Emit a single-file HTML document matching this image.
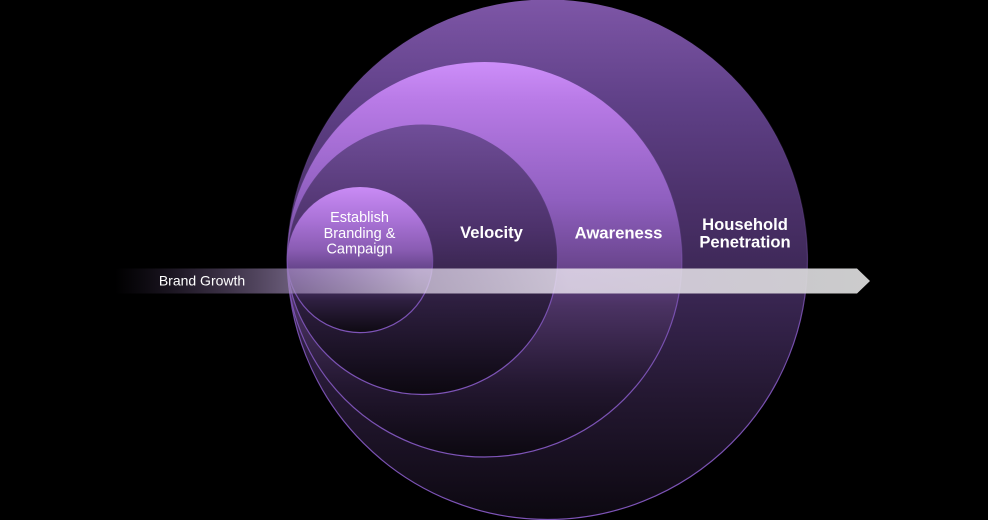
<!DOCTYPE html>
<html>
<head>
<meta charset="utf-8">
<style>
  html, body { margin: 0; padding: 0; background: #000; }
  body { width: 988px; height: 520px; overflow: hidden; }
  svg { display: block; }
  text { font-family: "Liberation Sans", Arial, sans-serif; fill: #ffffff; }
</style>
</head>
<body>
<svg width="988" height="520" viewBox="0 0 988 520" xmlns="http://www.w3.org/2000/svg">
  <defs>
    <linearGradient id="g1" x1="0" y1="0" x2="0" y2="1">
      <stop offset="0" stop-color="#7e56a7"/>
      <stop offset="0.2" stop-color="#5f4087"/>
      <stop offset="0.4" stop-color="#4a3068"/>
      <stop offset="0.58" stop-color="#382550"/>
      <stop offset="0.77" stop-color="#231730"/>
      <stop offset="1" stop-color="#0c0810"/>
    </linearGradient>
    <linearGradient id="g2" x1="0" y1="0" x2="0" y2="1">
      <stop offset="0" stop-color="#cd8ef9"/>
      <stop offset="0.1" stop-color="#b87ae6"/>
      <stop offset="0.35" stop-color="#8f5fbf"/>
      <stop offset="0.5" stop-color="#6e4893"/>
      <stop offset="0.62" stop-color="#4a3262"/>
      <stop offset="0.82" stop-color="#231730"/>
      <stop offset="1" stop-color="#0c0810"/>
    </linearGradient>
    <linearGradient id="g3" x1="0" y1="0" x2="0" y2="1">
      <stop offset="0" stop-color="#704e99"/>
      <stop offset="0.39" stop-color="#4c316a"/>
      <stop offset="0.65" stop-color="#2e1f40"/>
      <stop offset="1" stop-color="#0c0810"/>
    </linearGradient>
    <linearGradient id="g4" x1="0" y1="0" x2="0" y2="1">
      <stop offset="0" stop-color="#c98bf5"/>
      <stop offset="0.23" stop-color="#a972d6"/>
      <stop offset="0.43" stop-color="#8a5cb3"/>
      <stop offset="0.6" stop-color="#5c3e80"/>
      <stop offset="0.78" stop-color="#2e1f40"/>
      <stop offset="1" stop-color="#0e0a12"/>
    </linearGradient>
    <linearGradient id="gs" x1="0" y1="0" x2="0" y2="1">
      <stop offset="0" stop-color="#8a60c0" stop-opacity="0"/>
      <stop offset="0.45" stop-color="#8a60c0" stop-opacity="0.25"/>
      <stop offset="0.62" stop-color="#7e54b8" stop-opacity="0.9"/>
      <stop offset="1" stop-color="#7e54b8" stop-opacity="1"/>
    </linearGradient>
    <linearGradient id="ga" gradientUnits="userSpaceOnUse" x1="115" y1="0" x2="870" y2="0">
      <stop offset="0" stop-color="#6a4f86" stop-opacity="0"/>
      <stop offset="0.12" stop-color="#8a70a4" stop-opacity="0.35"/>
      <stop offset="0.23" stop-color="#a892c0" stop-opacity="0.62"/>
      <stop offset="0.4" stop-color="#e0d6ea" stop-opacity="0.72"/>
      <stop offset="0.6" stop-color="#ece6f2" stop-opacity="0.82"/>
      <stop offset="1" stop-color="#d2d2d2" stop-opacity="0.97"/>
    </linearGradient>
  </defs>

  <rect width="988" height="520" fill="#000"/>

  <circle cx="547.5" cy="259.5" r="260" fill="url(#g1)" stroke="url(#gs)" stroke-width="1.2"/>
  <circle cx="484.5" cy="259.5" r="197.5" fill="url(#g2)" stroke="url(#gs)" stroke-width="1.2"/>
  <circle cx="422.5" cy="259.5" r="135" fill="url(#g3)" stroke="url(#gs)" stroke-width="1.2"/>
  <circle cx="360" cy="259.8" r="72.8" fill="url(#g4)" stroke="url(#gs)" stroke-width="1.2"/>

  <polygon points="115,268.5 857,268.5 870,281 857,293.5 115,293.5" fill="url(#ga)"/>

  <text x="202" y="285.5" font-size="14" text-anchor="middle">Brand Growth</text>

  <text x="359.5" y="221.8" font-size="14.5" text-anchor="middle">Establish</text>
  <text x="359.5" y="237.8" font-size="14.5" text-anchor="middle">Branding &amp;</text>
  <text x="359.5" y="253.6" font-size="14.5" text-anchor="middle">Campaign</text>

  <text x="491.5" y="238.2" font-size="16.6" font-weight="bold" text-anchor="middle">Velocity</text>
  <text x="618.5" y="238.3" font-size="16.7" font-weight="bold" text-anchor="middle">Awareness</text>
  <text x="745" y="230" font-size="16.6" font-weight="bold" text-anchor="middle">Household</text>
  <text x="745" y="247.4" font-size="16.6" font-weight="bold" text-anchor="middle">Penetration</text>
</svg>
</body>
</html>
